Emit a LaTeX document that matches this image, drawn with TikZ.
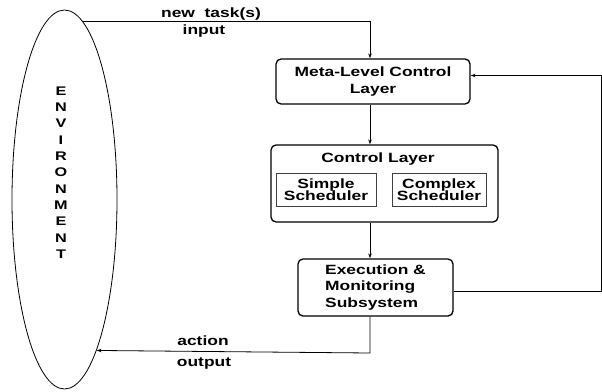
\documentclass[tikz,border=0pt]{standalone}
\usepackage{fontspec}
\setmainfont{Liberation Sans}[FakeStretch=1.3]
\usetikzlibrary{shapes.geometric,arrows.meta}
\begin{document}
\begin{tikzpicture}[x=1pt,y=-1pt,
  every node/.style={font=\bfseries\fontsize{13.4}{16.5}\selectfont, inner sep=0pt},
  box/.style={draw, line width=1.3pt, rounded corners=5pt},
  subbox/.style={draw=black!75, line width=0.8pt, align=center, font=\bfseries\fontsize{13.4}{12.5}\selectfont},
  conn/.style={line width=0.8pt},
  tip/.style={-{Stealth[length=5pt,width=3.5pt]}}]
\useasboundingbox (0,0) rectangle (602,391);
% environment
\node[ellipse, draw, line width=0.8pt, minimum width=105pt, minimum height=379pt] (env) at (64.5,199.5) {};
\node[font=\bfseries\fontsize{12.5}{16.3}\selectfont, align=center] (envtext) at (61,172.5) {E\\N\\V\\I\\R\\O\\N\\M\\E\\N\\T};
% boxes
\node[box, minimum width=194pt, minimum height=45pt, align=center] (meta) at (373,81.5) {Meta-Level Control\\Layer};
\node[box, minimum width=227pt, minimum height=77pt] (ctl) at (384.5,183.5) {};
\node (ctltitle) at (378,159) {Control Layer};
\node[subbox, minimum width=100pt, minimum height=33pt] (simple) at (326,189.5) {Simple\\Scheduler};
\node[subbox, minimum width=94pt, minimum height=33pt] (complex) at (439,189.5) {Complex\\Scheduler};
\node[box, minimum width=155pt, minimum height=57pt, align=left] (exec) at (375.5,287.5) {Execution \&\\Monitoring\\Subsystem};
% helper coordinates
\coordinate (col) at (370,0);
\coordinate (fbx) at (601,0);
\coordinate (fblow) at (0,291);
\coordinate (fbhigh) at (0,75.5);
\coordinate (botline) at (0,353);
% connectors
\draw[conn,tip] (env.84.08) -- (env.84.08 -| col) -- (meta.north -| col);
\draw[conn,tip] (meta.south -| col) -- (ctl.north -| col);
\draw[conn,tip] (ctl.south -| col) -- (exec.north -| col);
\draw[conn,tip] (exec.south -| col) -- (col |- botline) -- (env.-78.65);
\draw[conn,tip] (exec.east |- fblow) -- (fbx |- fblow) -- (fbx |- fbhigh) -- (meta.east |- fbhigh);
% labels
\node (newtask) at (211,14) {new~~task(s)};
\node (input) at (204,31) {input};
\node (action) at (203,341) {action};
\node (output) at (204,364) {output};
\end{tikzpicture}
\end{document}
